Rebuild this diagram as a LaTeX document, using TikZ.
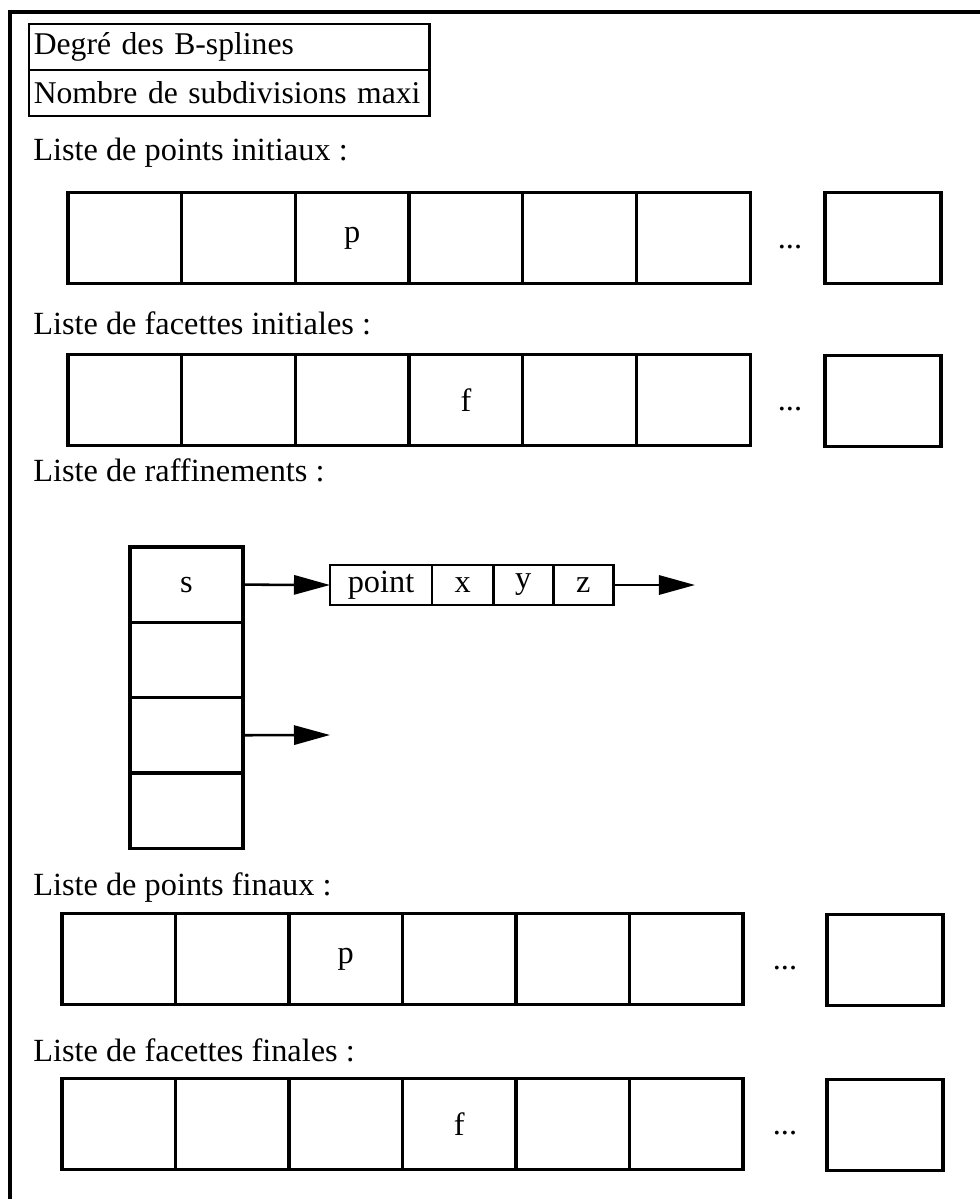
\documentclass[tikz,border=0pt]{standalone}
\usepackage{fontspec}
\setmainfont{Liberation Serif}
\usetikzlibrary{arrows.meta, positioning}

\begin{document}
\begin{tikzpicture}[
    x=0.025cm, y=-0.025cm,
    every node/.style={font=\fontsize{23}{27}\selectfont},
    cell/.style={draw, line width=2.3pt, outer sep=0pt, inner sep=0pt, minimum width=2.84cm, minimum height=2.28cm},
    lastcell/.style={cell, minimum width=2.9cm},
    stackcell/.style={cell, minimum width=2.83cm, minimum height=1.88cm},
    field/.style={draw, line width=2pt, outer sep=0pt, inner sep=0pt, minimum height=1cm},
    infobox/.style={draw, line width=2pt, outer sep=0pt, anchor=north west, text width=9.76cm, inner xsep=0.12cm, align=left, minimum height=1.15cm, font=\fontsize{22.5}{27}\selectfont},
    title/.style={anchor=west, inner sep=0pt},
    dots/.style={inner sep=0pt},
    arrow/.style={-{Triangle[length=0.9cm, width=0.48cm]}, line width=1.8pt},
]
\useasboundingbox (0,0) rectangle (980,1199);

% outer frame (cut at the page edges)
\draw[line width=2.2pt] (980,12) -- (10,12) -- (10,1199);

% parameters
\node[infobox] (deg) at (29,24) {Degré des B-splines};
\node[infobox, below=0pt of deg.south west, anchor=north west] (sub) {Nombre de subdivisions maxi};

% initial points
\node[title] (tpi) at (33,153) {Liste de points initiaux :};
\foreach \i/\t in {1/{},2/{},3/p,4/{},5/{},6/{}}
  \node[cell] (pi\i) at ({68+113.7*(\i-0.5)},238) {\t};
\node[dots] (dpi) at (790,247) {...};
\node[lastcell] (pilast) at (883,238) {};

% initial facets
\node[title] (tfi) at (33,323) {Liste de facettes initiales :};
\foreach \i/\t in {1/{},2/{},3/{},4/f,5/{},6/{}}
  \node[cell] (fi\i) at ({68+113.7*(\i-0.5)},400) {\t};
\node[dots] (dfi) at (790,409) {...};
\node[lastcell] (filast) at (883,401) {};

% refinements
\node[title] (tr) at (33,470) {Liste de raffinements :};
\foreach \j/\t in {1/s,2/{},3/{},4/{}}
  \node[stackcell] (r\j) at (186.5,{547+75.3*(\j-0.5)}) {\t};
\node[field, minimum width=2.55cm] (pt) at (381,585) {point};
\node[field, minimum width=1.53cm, right=0pt of pt] (px) {x};
\node[field, minimum width=1.5cm, right=0pt of px] (py) {y};
\node[field, minimum width=1.5cm, right=0pt of py] (pz) {z};
\coordinate (pnext) at (695,585);
\coordinate (rnext) at (330,735);
\draw[arrow] (r1.east) -- (pt.west);
\draw[arrow] (pz.east) -- (pnext);
\draw[arrow] (r3.east) -- (rnext);

% final points
\node[title] (tpf) at (33,888) {Liste de points finaux :};
\foreach \i/\t in {1/{},2/{},3/p,4/{},5/{},6/{}}
  \node[cell] (pf\i) at ({62+113.5*(\i-0.5)},959) {\t};
\node[dots] (dpf) at (785,968) {...};
\node[lastcell] (pflast) at (885,960) {};

% final facets
\node[title] (tff) at (33,1050) {Liste de facettes finales :};
\foreach \i/\t in {1/{},2/{},3/{},4/f,5/{},6/{}}
  \node[cell] (ff\i) at ({62+113.5*(\i-0.5)},1124) {\t};
\node[dots] (dff) at (785,1133) {...};
\node[lastcell] (fflast) at (885,1125) {};
\end{tikzpicture}
\end{document}
